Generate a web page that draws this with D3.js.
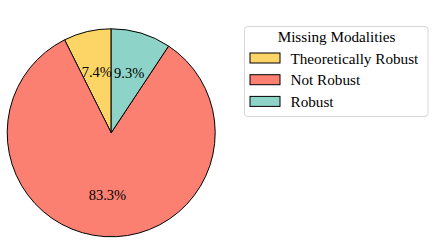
<!DOCTYPE html>
<html>
<head>
<meta charset="utf-8">
<script src="https://cdn.jsdelivr.net/npm/d3@7"></script>
<style>
  body { margin: 0; background: #fff; }
  text { font-family: "Liberation Serif", "DejaVu Serif", serif; }
</style>
</head>
<body>
<svg></svg>
<script>
const WIDTH = 436;
const HEIGHT = 252;

// legend order (matplotlib draws these counterclockwise from the top)
const categories = ["Theoretically Robust", "Not Robust", "Robust"];
const shares = [7.4, 83.3, 9.3];
const colors = ["#fdd466", "#fb8072", "#8dd3c7"];
const legendTitle = "Missing Modalities";

const CENTER = {x: 111.2, y: 132.8};
const RADIUS = 104;
const FONT = 14.5;
const LEGEND_FONT = 15.2;

var svg = d3.select("svg")
    .attr("width", WIDTH)
    .attr("height", HEIGHT)
    .attr("viewBox", `0 0 ${WIDTH} ${HEIGHT}`);

var data = categories.map((c, i) => ({name: c, value: shares[i], color: colors[i]}));

// counterclockwise from 12 o'clock
var pie = d3.pie()
    .sort(null)
    .value(d => d.value)
    .startAngle(0)
    .endAngle(-2 * Math.PI);

var arc = d3.arc().innerRadius(0).outerRadius(RADIUS);
var labelArc = d3.arc().innerRadius(RADIUS * 0.6).outerRadius(RADIUS * 0.6);

var g = svg.append("g")
    .attr("transform", `translate(${CENTER.x},${CENTER.y})`);

var arcs = pie(data);

g.selectAll("path.slice")
    .data(arcs)
    .join("path")
    .attr("class", "slice")
    .attr("d", arc)
    .attr("fill", d => d.data.color)
    .attr("stroke", "black")
    .attr("stroke-width", 1)
    .attr("stroke-linejoin", "round");

g.selectAll("text.pct")
    .data(arcs)
    .join("text")
    .attr("class", "pct")
    .attr("transform", d => `translate(${labelArc.centroid(d)})`)
    .attr("text-anchor", "middle")
    .attr("dy", "0.35em")
    .style("font-size", FONT + "px")
    .style("fill", "black")
    .text(d => d.data.value.toFixed(1) + "%");

// legend
var legend = svg.append("g").attr("transform", "translate(244.5,26.5)");

legend.append("rect")
    .attr("width", 183.5)
    .attr("height", 90)
    .attr("rx", 3)
    .attr("fill", "white")
    .attr("stroke", "#d6d6d6")
    .attr("stroke-width", 1);

legend.append("text")
    .attr("x", 92)
    .attr("y", 15.5)
    .attr("text-anchor", "middle")
    .style("font-size", LEGEND_FONT + "px")
    .text(legendTitle);

var row = legend.selectAll("g.row")
    .data(data)
    .join("g")
    .attr("class", "row")
    .attr("transform", (d, i) => `translate(0,${26.5 + i * 21.7})`);

row.append("rect")
    .attr("x", 5.5)
    .attr("width", 30)
    .attr("height", 10)
    .attr("fill", d => d.color)
    .attr("stroke", "black")
    .attr("stroke-width", 1);

row.append("text")
    .attr("x", 46)
    .attr("y", 10.5)
    .style("font-size", LEGEND_FONT + "px")
    .text(d => d.name);
</script>
</body>
</html>
